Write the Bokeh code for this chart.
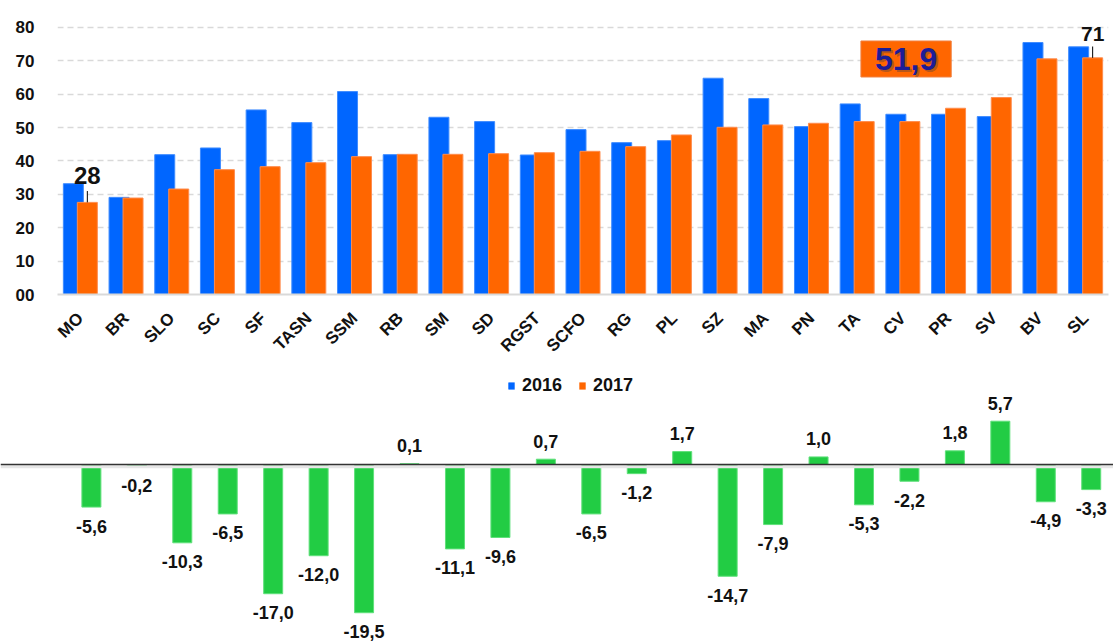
from math import pi
from bokeh.plotting import figure
from bokeh.layouts import column, row
from bokeh.models import (ColumnDataSource, FactorRange, Range1d, FixedTicker,
                          Legend, LegendItem, Label, Span)
from bokeh.transform import dodge
from bokeh.core.properties import value
from bokeh.embed import file_html
from bokeh.resources import INLINE

# ---------------- data ----------------
categories = ["MO", "BR", "SLO", "SC", "SF", "TASN", "SSM", "RB", "SM", "SD", "RGST",
              "SCFO", "RG", "PL", "SZ", "MA", "PN", "TA", "CV", "PR", "SV", "BV", "SL"]
values_2016 = [33.2, 29.1, 41.9, 43.9, 55.3, 51.5, 60.8, 41.9, 53.1, 51.8, 41.8,
               49.4, 45.5, 46.1, 64.8, 58.7, 50.3, 57.1, 54.0, 54.0, 53.3, 75.5, 74.2]
values_2017 = [27.6, 28.9, 31.6, 37.4, 38.3, 39.5, 41.3, 42.0, 42.0, 42.2, 42.5,
               42.9, 44.3, 47.8, 50.1, 50.8, 51.3, 51.8, 51.8, 55.8, 59.0, 70.6, 70.9]
differences = [-5.6, -0.2, -10.3, -6.5, -17.0, -12.0, -19.5, 0.1, -11.1, -9.6, 0.7,
               -6.5, -1.2, 1.7, -14.7, -7.9, 1.0, -5.3, -2.2, 1.8, 5.7, -4.9, -3.3]
y_ticks = [0, 10, 20, 30, 40, 50, 60, 70, 80]
y_tick_labels = ["00", "10", "20", "30", "40", "50", "60", "70", "80"]
series_names = ["2016", "2017"]
callout_cats = ["MO", "SL"]
callout_texts = ["28", "71"]
average_text = "51,9"

BLUE = "#0066FF"
ORANGE = "#FF6600"
GREEN = "#22CC44"
FONT = "Liberation Sans"
TXT = "#111111"

# ---------------- top chart ----------------
src = ColumnDataSource(dict(cat=categories, v16=values_2016, v17=values_2017))

p = figure(width=1113, height=370, x_range=FactorRange(*categories, range_padding=0),
           y_range=Range1d(0, 84.49), output_backend="svg", toolbar_location=None,
           min_border_left=57, min_border_right=5, min_border_top=12, min_border_bottom=76)
p.outline_line_color = None
p.background_fill_color = "white"

off = 0.153
bw = 0.4375
r16 = p.vbar(x=dodge("cat", -off, range=p.x_range), top="v16", width=bw, source=src,
             fill_color=BLUE, line_color="#3F8CFF", line_width=1)
r17 = p.vbar(x=dodge("cat", off, range=p.x_range), top="v17", width=bw, source=src,
             fill_color=ORANGE, line_color="#FF8C4D", line_width=1)

p.xgrid.grid_line_color = None
p.ygrid.grid_line_color = "#d9d9d9"
p.ygrid.grid_line_dash = "6 4"
p.ygrid.grid_line_width = 1.5

p.yaxis.ticker = FixedTicker(ticks=y_ticks)
p.yaxis.major_label_overrides = {t: l for t, l in zip(y_ticks, y_tick_labels)}
p.yaxis.axis_line_color = None
p.yaxis.major_tick_line_color = None
p.yaxis.minor_tick_line_color = None
p.yaxis.major_label_standoff = 17
p.yaxis.major_label_text_font = FONT
p.yaxis.major_label_text_font_style = "bold"
p.yaxis.major_label_text_font_size = "17px"
p.yaxis.major_label_text_color = TXT

p.xaxis.major_label_orientation = pi / 4
p.xaxis.axis_line_color = "#d9d9d9"
p.xaxis.axis_line_width = 2
p.xaxis.major_tick_line_color = None
p.xaxis.minor_tick_line_color = None
p.xaxis.major_label_standoff = 15
p.xaxis.major_label_text_font = FONT
p.xaxis.major_label_text_font_style = "bold"
p.xaxis.major_label_text_font_size = "17px"
p.xaxis.major_label_text_color = TXT

# callouts on 2017 bars
idx = [categories.index(c) for c in callout_cats]
csrc = ColumnDataSource(dict(cat=callout_cats, y=[values_2017[i] for i in idx],
                             y1=[values_2017[i] + 3.4 for i in idx], txt=callout_texts))
p.segment(x0=dodge("cat", off, range=p.x_range), y0="y",
          x1=dodge("cat", off, range=p.x_range), y1="y1", source=csrc,
          line_color="black", line_width=1)
p.text(x=dodge("cat", off, range=p.x_range), y="y", text="txt",
       source=ColumnDataSource(dict(cat=callout_cats[:1], y=[values_2017[idx[0]]], txt=callout_texts[:1])),
       text_align="center", text_baseline="middle", y_offset=-27,
       text_font=value(FONT), text_font_style="bold", text_font_size="24px", text_color=TXT)
p.text(x=dodge("cat", off, range=p.x_range), y="y", text="txt",
       source=ColumnDataSource(dict(cat=callout_cats[1:], y=[values_2017[idx[1]]], txt=callout_texts[1:])),
       text_align="center", text_baseline="middle", y_offset=-24,
       text_font=value(FONT), text_font_style="bold", text_font_size="21px", text_color=TXT)

# average box
box = Label(x=18.57, y=70.56, text=average_text, text_align="center", text_baseline="middle",
            text_font=FONT, text_font_style="bold", text_font_size="32px", text_color=ORANGE,
            background_fill_color=ORANGE, border_line_color="#F08040", border_line_width=1,
            padding=dict(left=14, right=14, top=7, bottom=7))
shadow = Label(x=18.57, y=70.56, text=average_text, text_align="center", text_baseline="middle",
               text_font=FONT, text_font_style="bold", text_font_size="32px",
               text_color="#7a4a30", text_alpha=0.55, x_offset=2, y_offset=-2)
avg = Label(x=18.57, y=70.56, text=average_text, text_align="center", text_baseline="middle",
            text_font=FONT, text_font_style="bold", text_font_size="32px", text_color="#1C1C96")
p.add_layout(box)
p.add_layout(shadow)
p.add_layout(avg)

# ---------------- bottom chart (with legend) ----------------
q = figure(width=1113, height=274, x_range=Range1d(-2.0, 22.49), y_range=Range1d(-23.68, 12.37),
           output_backend="svg", toolbar_location=None,
           x_axis_location=None, y_axis_location=None,
           min_border_left=0, min_border_right=0, min_border_top=0, min_border_bottom=0)
q.outline_line_color = None
q.grid.grid_line_color = None

# legend swatches: zero-height proxies carrying the 2016/2017 bar styles
l16 = q.vbar(x=[0], top=[0], bottom=[0], width=0, fill_color=BLUE, line_color=None)
l17 = q.vbar(x=[0], top=[0], bottom=[0], width=0, fill_color=ORANGE, line_color=None)
legend = Legend(items=[LegendItem(label=series_names[0], renderers=[l16]),
                       LegendItem(label=series_names[1], renderers=[l17])],
                orientation="horizontal", location=(507, 248), padding=0, margin=0,
                border_line_alpha=0, background_fill_alpha=0, glyph_width=8, glyph_height=9,
                label_height=20, label_text_font=FONT, label_text_font_style="bold",
                label_text_font_size="18px", label_text_color=TXT, label_standoff=7, spacing=16)
q.add_layout(legend)

pos = list(range(len(categories)))
labels = [f"{d:.1f}".replace(".", ",") for d in differences]
dsrc = ColumnDataSource(dict(x=pos, d=differences, lab=labels,
                             off=[19 if d < 0 else -18 for d in differences]))
q.add_layout(Span(location=-0.3, dimension="width", line_color="#e6e6e6", line_width=3))
q.vbar(x="x", top="d", bottom=0, width=0.418, source=dsrc, fill_color=GREEN,
       line_color="#5FE07A", line_width=1)
q.add_layout(Span(location=0, dimension="width", line_color="#333333", line_width=1.5))
q.text(x="x", y="d", text="lab", y_offset="off", source=dsrc, text_align="center",
       text_baseline="middle", text_font=value(FONT), text_font_style="bold",
       text_font_size="18px", text_color=TXT)

layout = column(row(p), row(q), spacing=0)
open("out.html", "w").write(file_html(layout, INLINE))
